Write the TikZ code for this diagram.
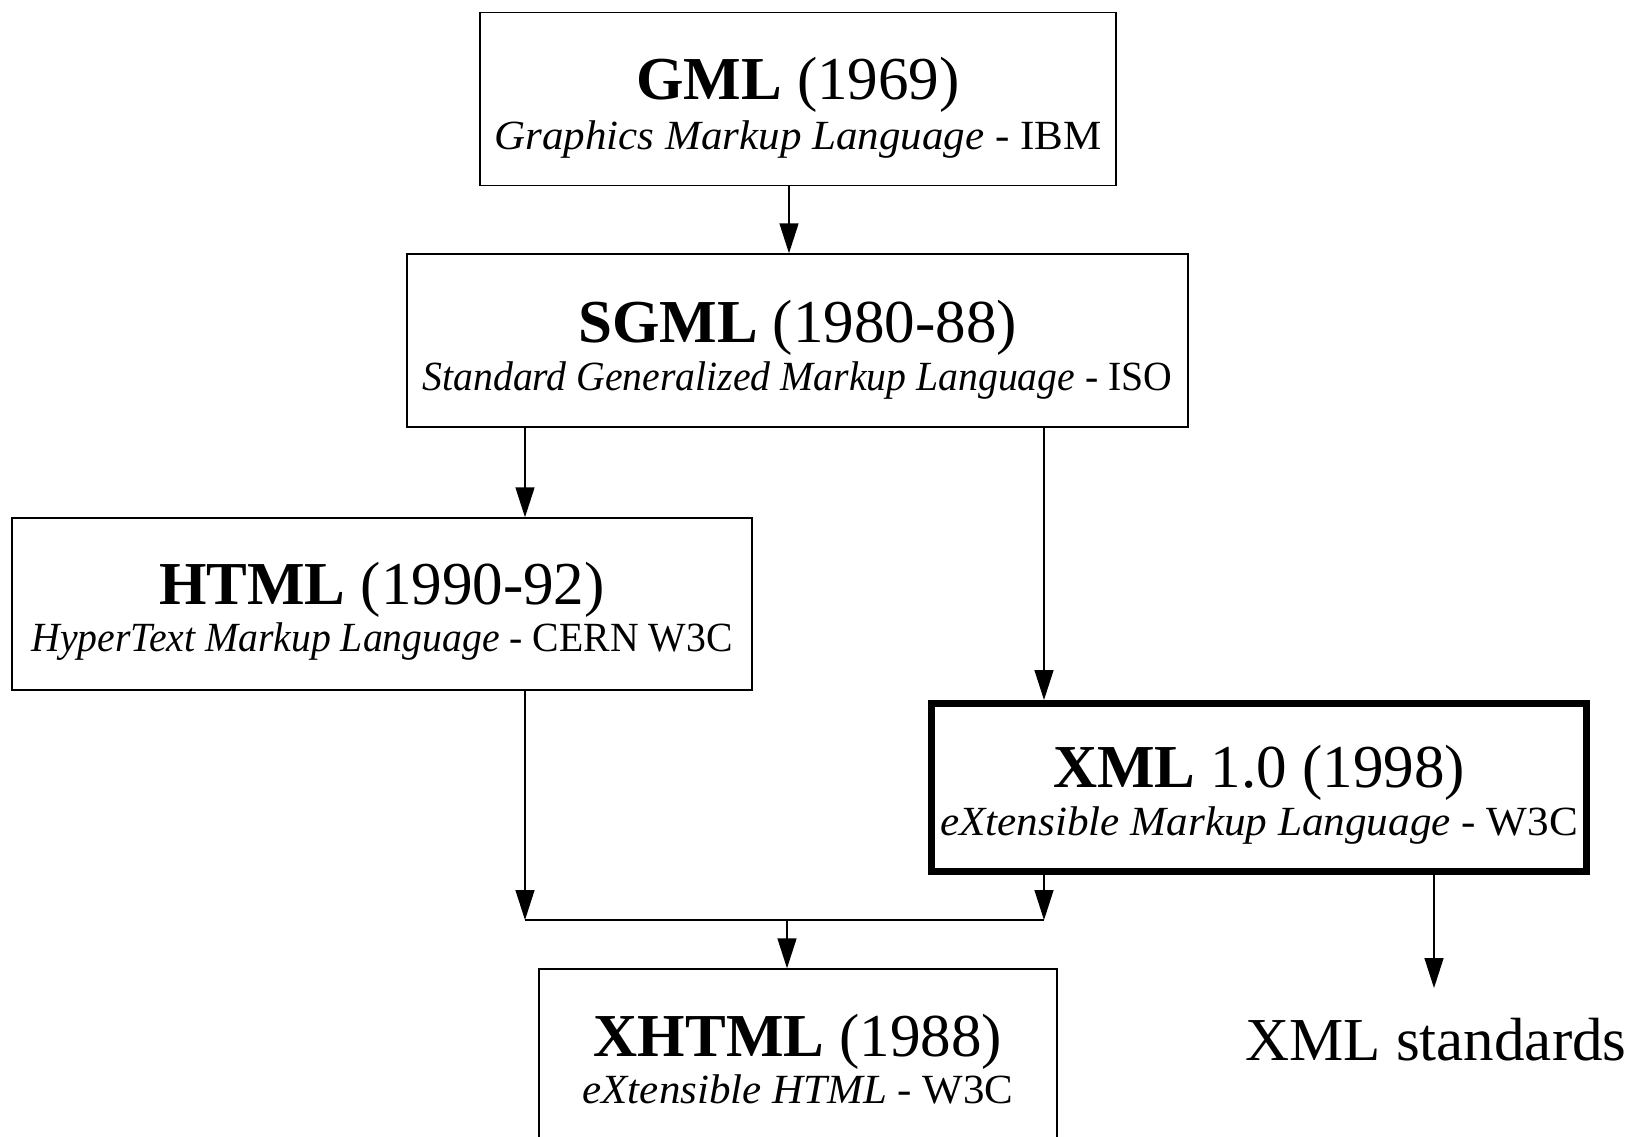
\documentclass[tikz,border=0pt]{standalone}
\usepackage{fontspec}
\setmainfont{Liberation Serif}
\usetikzlibrary{arrows.meta}
\tikzset{
 box/.style={draw, line width=1.4bp, rectangle, inner sep=0pt},
 thickbox/.style={draw, line width=7bp, rectangle, inner sep=0pt},
 ttl/.style={anchor=base, inner sep=0pt, font=\fontsize{61bp}{61bp}\selectfont},
 sub/.style={anchor=base, inner sep=0pt, font=\fontsize{41.5bp}{41.5bp}\selectfont},
 arr/.style={line width=1.4bp, -{Triangle[length=30bp,width=19bp]}},
 ln/.style={line width=1.4bp},
}
\begin{document}
\begin{tikzpicture}[x=1bp,y=-1bp]
\useasboundingbox (0,0) rectangle (1634,1136);
\clip (0,0) rectangle (1634,1136);
% boxes
\node[box, minimum width=636bp, minimum height=173bp] (gml) at (798,99) {};
\node[ttl] (gmlt) at (798,99) {\textbf{GML} (1969)};
\node[sub] (gmls) at (798,149) {\scalebox{1.037}[1]{\textit{Graphics Markup Language} - IBM}};

\node[box, minimum width=781bp, minimum height=173bp] (sgml) at (797.5,340.5) {};
\node[ttl] (sgmlt) at (797.5,342) {\textbf{SGML} (1980-88)};
\node[sub] (sgmls) at (797.5,390) {\scalebox{0.957}[1]{\textit{Standard Generalized Markup Language} - ISO}};

\node[box, minimum width=740bp, minimum height=172bp] (html) at (382,604) {};
\node[ttl] (htmlt) at (382,604) {\textbf{HTML} (1990-92)};
\node[sub] (htmls) at (382,651) {\scalebox{0.957}[1]{\textit{HyperText Markup Language} - CERN W3C}};

\node[thickbox, minimum width=655bp, minimum height=168bp] (xml) at (1259,787.5) {};
\node[ttl] (xmlt) at (1259,787) {\textbf{XML} 1.0 (1998)};
\node[sub] (xmls) at (1259,835) {\scalebox{1.04}[1]{\textit{eXtensible Markup Language} - W3C}};

\node[box, minimum width=518bp, minimum height=174bp] (xhtml) at (798,1056) {};
\node[ttl] (xhtmlt) at (798,1056) {\textbf{XHTML} (1988)};
\node[sub] (xhtmls) at (798,1103) {\scalebox{1.035}[1]{\textit{eXtensible HTML} - W3C}};

\node[ttl] (std) at (1436,1060) {XML standards};

% helper coordinates
\coordinate (xa) at (789,0);
\coordinate (xb) at (525,0);
\coordinate (xc) at (1044,0);
\coordinate (xd) at (787,0);
\coordinate (xe) at (1434,0);
\coordinate (jl) at (525,920);
\coordinate (jr) at (1044,920);
\coordinate (jm) at (787,920);
\coordinate (stdtip) at (1434,988);

% connectors
\draw[arr] (gml.south -| xa) -- (sgml.north -| xa);
\draw[arr] (sgml.south -| xb) -- (html.north -| xb);
\draw[arr] (sgml.south -| xc) -- (xml.north -| xc);
\draw[arr] (html.south -| xb) -- (jl);
\draw[arr] (xml.south -| xc) -- (jr);
\draw[ln] (jl) -- (jr);
\draw[arr] (jm) -- (xhtml.north -| xd);
\draw[arr] (xml.south -| xe) -- (stdtip);
\end{tikzpicture}
\end{document}
